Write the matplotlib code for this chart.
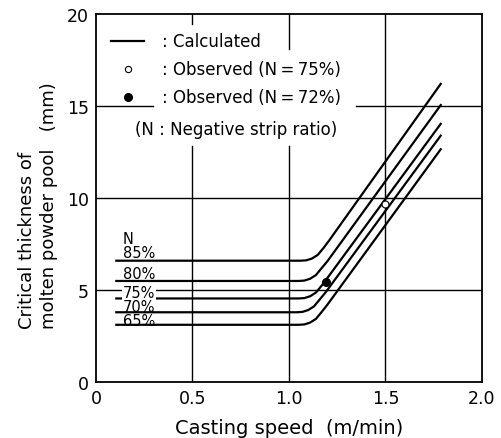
#!/usr/bin/env python3
# -*- coding: utf-8 -*-
"""
Critical thickness of molten powder pool vs. casting speed,
calculated curves for several negative strip ratios + observed points.
"""

import numpy as np
import matplotlib
matplotlib.use("Agg")
import matplotlib.pyplot as plt

# ----------------------------
# Data
# ----------------------------
ratio_labels = ["85%", "80%", "75%", "70%", "65%"]

# casting speed (m/min) / critical thickness (mm) for each calculated curve
speed_85 = [0.10, 1.06, 1.09, 1.12, 1.15, 1.18, 1.21, 1.79]
thick_85 = [6.60, 6.60, 6.62, 6.72, 6.92, 7.30, 7.72, 16.25]

speed_80 = [0.10, 1.05, 1.08, 1.11, 1.14, 1.17, 1.20, 1.79]
thick_80 = [5.50, 5.50, 5.52, 5.62, 5.82, 6.20, 6.58, 15.10]

speed_75 = [0.10, 1.05, 1.08, 1.11, 1.14, 1.17, 1.20, 1.79]
thick_75 = [4.55, 4.55, 4.57, 4.67, 4.87, 5.25, 5.67, 14.08]

speed_70 = [0.10, 1.04, 1.07, 1.10, 1.13, 1.16, 1.19, 1.79]
thick_70 = [3.80, 3.80, 3.82, 3.92, 4.12, 4.50, 4.88, 13.44]

speed_65 = [0.10, 1.05, 1.08, 1.11, 1.14, 1.17, 1.20, 1.79]
thick_65 = [3.12, 3.12, 3.14, 3.24, 3.44, 3.82, 4.22, 12.70]

# observed points
obs75_speed = [1.50]
obs75_thick = [9.70]
obs72_speed = [1.19]
obs72_thick = [5.45]

x_ticks = [0, 0.5, 1.0, 1.5, 2.0]
x_ticklabels = ["0", "0.5", "1.0", "1.5", "2.0"]
y_ticks = [0, 5, 10, 15, 20]


def main():
    plt.rcParams["font.family"] = ["DejaVu Sans"]

    fig = plt.figure(figsize=(5.02, 4.39), dpi=100)
    ax = fig.add_axes([0.191, 0.127, 0.769, 0.839])
    ax.set_xlim(0, 2.0)
    ax.set_ylim(0, 20)

    # grid, partly hidden behind the legend text
    gkw = dict(color="black", lw=1.0, zorder=1)
    ax.axvline(0.5, ymin=0, ymax=12.85 / 20, **gkw)
    ax.axvline(0.5, ymin=19.45 / 20, ymax=1, **gkw)
    ax.axvline(1.0, ymin=0, ymax=12.85 / 20, **gkw)
    ax.axvline(1.0, ymin=18.1 / 20, ymax=1, **gkw)
    ax.axvline(1.5, **gkw)
    ax.axhline(5, **gkw)
    ax.axhline(10, **gkw)
    ax.axhline(15, xmin=0, xmax=0.295 / 2, **gkw)
    ax.axhline(15, xmin=1.35 / 2, xmax=1, **gkw)

    # calculated curves
    curves = [(speed_85, thick_85), (speed_80, thick_80), (speed_75, thick_75),
              (speed_70, thick_70), (speed_65, thick_65)]
    for sx, ty in curves:
        ax.plot(sx, ty, color="black", lw=1.6, solid_capstyle="butt", zorder=3)

    # observed
    ax.plot(obs75_speed, obs75_thick, "o", ms=5, mfc="white", mec="black", mew=0.8, zorder=4)
    ax.plot(obs72_speed, obs72_thick, "o", ms=5.5, mfc="black", mec="black", zorder=4)

    # curve labels
    lab_y = [7.07, 5.88, 4.90, 4.09, 3.33]
    ax.text(0.14, 7.83, "N", fontsize=10.5, ha="left", va="center", zorder=5)
    for lab, yy in zip(ratio_labels, lab_y):
        bb = None
        if lab == "75%":
            bb = dict(facecolor="white", edgecolor="none", pad=0.3)
        ax.text(0.14, yy, lab, fontsize=10.5, ha="left", va="center", zorder=5, bbox=bb)

    # legend (drawn by hand like the original)
    ax.plot([0.078, 0.249], [18.55, 18.55], color="black", lw=1.6, zorder=5)
    ax.plot([0.166], [17.0], "o", ms=4.5, mfc="white", mec="black", mew=0.8, zorder=5)
    ax.plot([0.166], [15.5], "o", ms=5.5, mfc="black", mec="black", zorder=5)
    tkw = dict(fontsize=12, ha="left", va="center", zorder=5)
    ax.text(0.342, 18.55, ": Calculated", **tkw)
    ax.text(0.342, 17.0, ": Observed (N\u2009=\u200975%)", **tkw)
    ax.text(0.342, 15.5, ": Observed (N\u2009=\u200972%)", **tkw)
    ax.text(0.202, 13.75, "(N : Negative strip ratio)", **tkw)

    ax.set_xticks(x_ticks)
    ax.set_xticklabels(x_ticklabels)
    ax.set_yticks(y_ticks)
    ax.tick_params(length=0, labelsize=12.5, pad=5)
    for s in ax.spines.values():
        s.set_linewidth(1.3)

    ax.set_xlabel("Casting speed  (m/min)", fontsize=14, labelpad=8)
    fig.text(0.076, 0.250, "Critical thickness of\nmolten powder pool   (mm)",
             rotation=90, fontsize=13, ha="center", va="bottom",
             multialignment="left", linespacing=1.3)

    fig.savefig("out.png", dpi=100)


if __name__ == "__main__":
    main()
